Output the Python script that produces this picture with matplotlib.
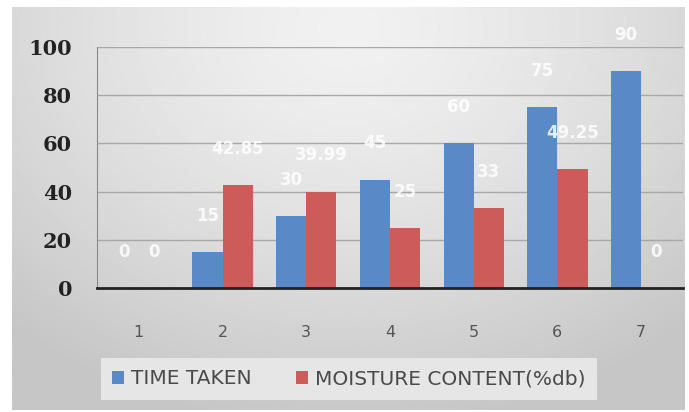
import numpy as np
import matplotlib.pyplot as plt

# drying trial data
runs = ['1', '2', '3', '4', '5', '6', '7']
time_taken = [0, 15, 30, 45, 60, 75, 90]
moisture = [0, 42.85, 39.99, 25, 33, 49.25, 0]
yticks = [0, 20, 40, 60, 80, 100]

blue = '#5a89c8'
red = '#cc5b59'

fig = plt.figure(figsize=(6.89, 4.12), dpi=100)

# soft grey backdrop, lighter near the top middle
bg = fig.add_axes([0.0174, 0.0049, 0.976, 0.978])
yy, xx = np.mgrid[0:1:200j, 0:1:300j]
r = np.sqrt(((xx - 0.5) / 0.75) ** 2 + ((yy - 0.05) / 1.0) ** 2)
shade = 0.945 - 0.17 * np.clip(r, 0, 1) ** 1.4
bg.imshow(shade, cmap='gray', vmin=0, vmax=1, aspect='auto',
          extent=[0, 1, 0, 1], origin='upper', interpolation='bilinear')
bg.set_axis_off()

ax = fig.add_axes([0.1408, 0.301, 0.8505, 0.585])
ax.set_facecolor('none')

x = np.arange(len(runs))
w = 0.36
b1 = ax.bar(x - w / 2, time_taken, w, color=blue, label='TIME TAKEN', zorder=3)
b2 = ax.bar(x + w / 2, moisture, w, color=red, label='MOISTURE CONTENT(%db)', zorder=3)

for bars, vals in ((b1, time_taken), (b2, moisture)):
    for bar, v in zip(bars, vals):
        ax.annotate(f'{v:g}', (bar.get_x() + bar.get_width() / 2, v),
                    xytext=(0, 26), textcoords='offset points', ha='center',
                    va='center', color='white', fontsize=12, fontweight='bold',
                    alpha=0.85, zorder=4)

ax.set_xlim(-0.5, len(runs) - 0.5)
ax.set_ylim(0, 100)
ax.set_yticks(yticks)
ax.set_xticks(x)
ax.set_xticklabels(runs)
ax.grid(axis='y', color='#a8a8a8', linewidth=1, zorder=0)
ax.tick_params(axis='y', length=0, pad=18, labelsize=15)
ax.tick_params(axis='x', length=0, pad=27, labelsize=11.5, labelcolor='#555555')
for lbl in ax.get_yticklabels():
    lbl.set_family('DejaVu Serif')
    lbl.set_fontweight('bold')
    lbl.set_color('#222222')

for side in ('top', 'right'):
    ax.spines[side].set_visible(False)
ax.spines['left'].set_color('#8a8a8a')
ax.spines['bottom'].set_color('#222222')
ax.spines['bottom'].set_linewidth(2)
ax.spines['bottom'].set_zorder(5)

leg = fig.legend(loc='center', bbox_to_anchor=(349 / 689, 1 - 379 / 412),
                 ncol=2, frameon=True, fancybox=False, fontsize=14.5,
                 handlelength=0.6, handleheight=0.6, handletextpad=0.35,
                 columnspacing=2.2, borderpad=0.55, borderaxespad=0)
leg.get_frame().set_facecolor('#e6e6e6')
leg.get_frame().set_edgecolor('none')
leg.get_frame().set_alpha(1)
for t in leg.get_texts():
    t.set_color('#4a4a4a')

fig.savefig('out.png', dpi=100)
